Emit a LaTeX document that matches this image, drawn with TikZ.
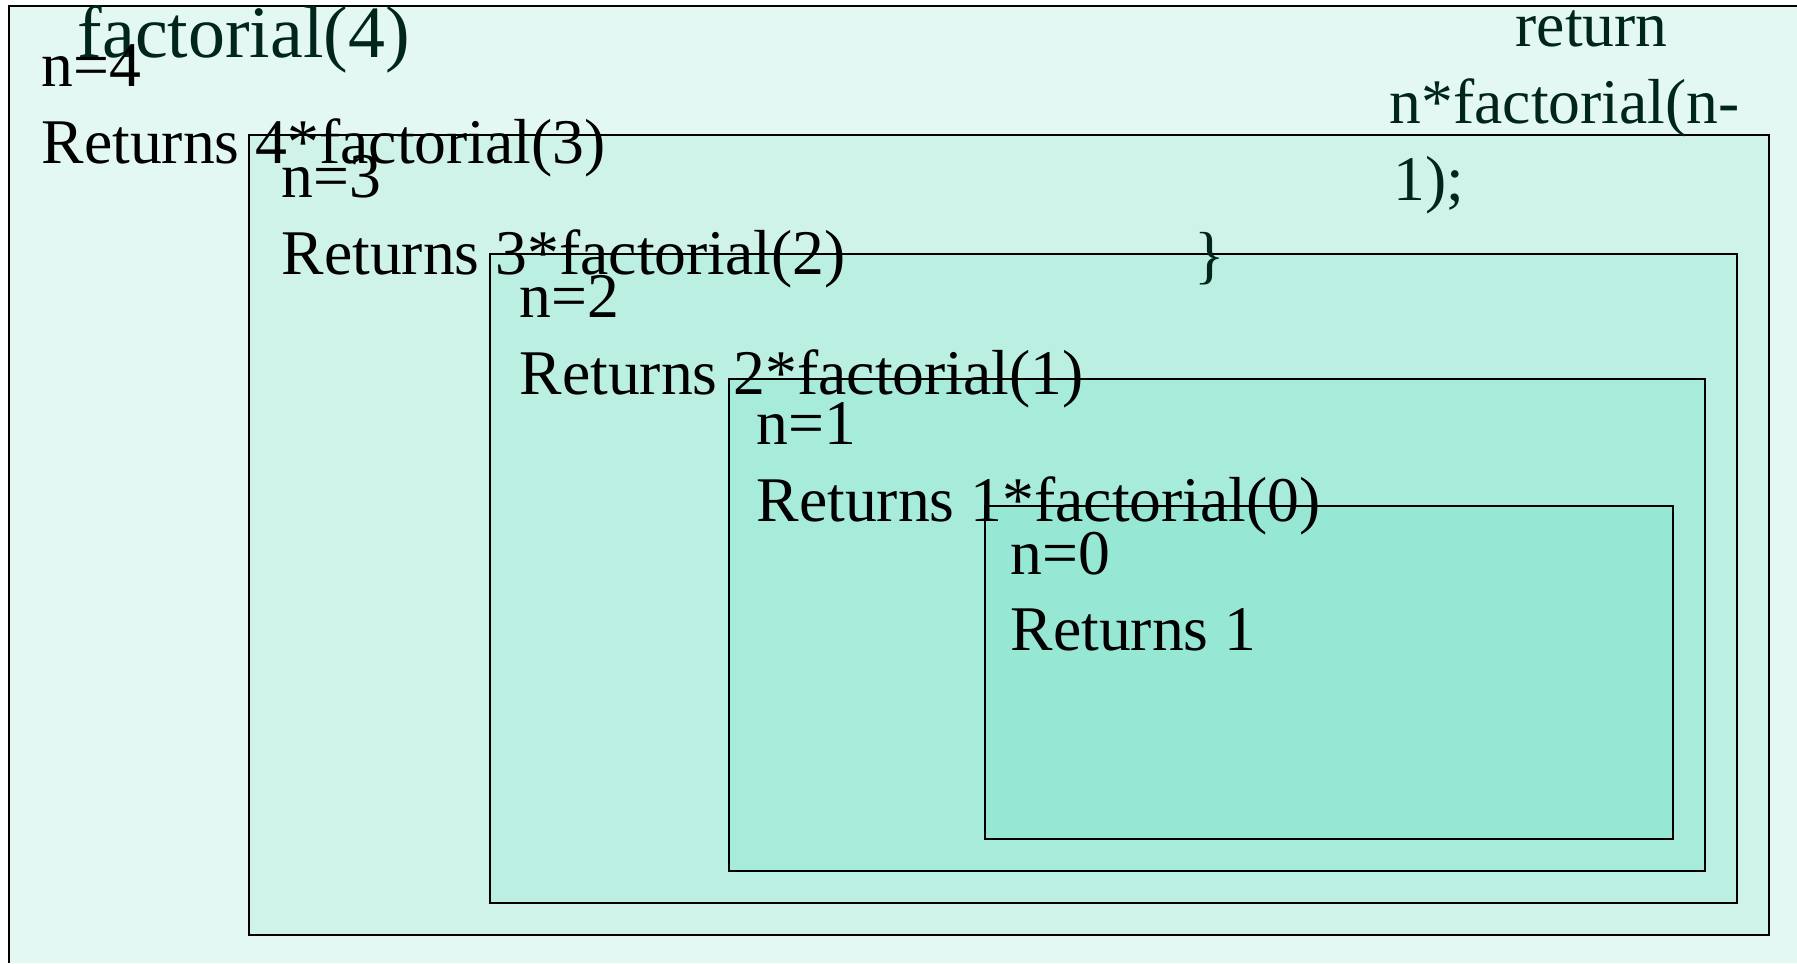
\documentclass[tikz,border=0pt]{standalone}
\usepackage{fontspec}
\setmainfont{Liberation Serif}

\definecolor{level0}{RGB}{227,248,242}
\definecolor{level1}{RGB}{208,243,233}
\definecolor{level2}{RGB}{186,239,225}
\definecolor{level3}{RGB}{167,235,219}
\definecolor{level4}{RGB}{150,231,211}
\definecolor{codetext}{RGB}{0,38,28}

\tikzset{
  frame/.style={draw=black, line width=0.6pt},
  label/.style={anchor=base west, inner sep=0pt, font=\fontsize{18.1}{22}\selectfont},
  code/.style={label, text=codetext},
}

\begin{document}
\begin{tikzpicture}[x=0.01cm, y=-0.01cm]
        \useasboundingbox (0,0) rectangle (1797,963);
        % nested call frames
        \fill[level0] (9,6) rectangle (1797,963);
        \draw[line width=0.6pt] (9,963) -- (9,6) -- (1797,6);
        \path[frame, fill=level1] (249,135) rectangle (1769,935);
        \path[frame, fill=level2] (490,254) rectangle (1737,903);
        \path[frame, fill=level3] (729,379) rectangle (1705,871);
        \path[frame, fill=level4] (985,506) rectangle (1673,839);
        % call title and code
        \node[code, font=\fontsize{21}{25}\selectfont] (title) at (77,57) {factorial(4)};
        \node[code] (ret1) at (1515,46) {return};
        \node[code] (ret2) at (1389,123) {n*factorial(n-};
        \node[code] (ret3) at (1393,200) {1);};
        \node[code] (close) at (1194,276) {\}};
        % frame contents
        \node[label] (n4) at (41,86) {n=4};
        \node[label] (r4) at (41,163) {Returns 4*factorial(3)};
        \node[label] (n3) at (281,197) {n=3};
        \node[label] (r3) at (281,274) {Returns 3*factorial(2)};
        \node[label] (n2) at (519,317) {n=2};
        \node[label] (r2) at (519,394) {Returns 2*factorial(1)};
        \node[label] (n1) at (756,444) {n=1};
        \node[label] (r1) at (756,521) {Returns 1*factorial(0)};
        \node[label] (n0) at (1010,574) {n=0};
        \node[label] (r0) at (1010,650) {Returns 1};
    \end{tikzpicture}
\end{document}
